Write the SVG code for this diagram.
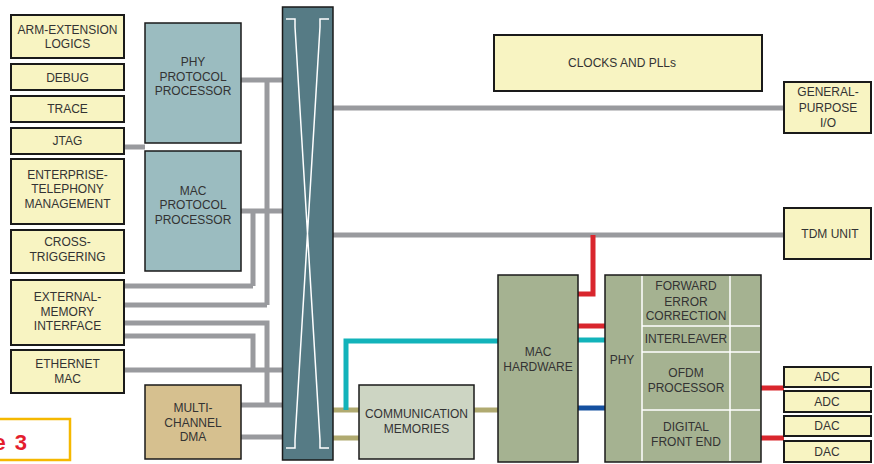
<svg xmlns="http://www.w3.org/2000/svg" width="874" height="464" viewBox="0 0 874 464">
<style>
text{font-family:"Liberation Sans",Arial,sans-serif;font-size:12px;fill:#333;text-anchor:middle}
.y{fill:#f8f4c2;stroke:#1a1a1a;stroke-width:2}
.t{fill:#9bbcc0;stroke:#1a1a1a;stroke-width:1.5}
.g{fill:#a5b291;stroke:#1a1a1a;stroke-width:1.5}
.w{fill:none;stroke:#fff;stroke-width:1.5}
.c path{fill:none;stroke-width:5;stroke-linejoin:miter}
.gr{stroke:#999a9e}
.ol{stroke:#b0aa70}
.cy{stroke:#12b3ba}
.rd{stroke:#d9262d}
.bl{stroke:#1450a0}
</style>
<g class="c" id="connectors">
<path class="gr" d="M124 147H145M241 80H283M241 211H283M267 80V305M253 211V286M124 286H253M124 305H267M124 323H267V405M124 336H253V370M124 370H283M241 405H283M241 437H283M333 108H784M333 235H784"/>
<path class="ol" d="M333 410H359M333 438H359M474 410H498"/>
<path class="cy" d="M346 410V341H498M578 340H605"/>
<path class="rd" d="M578 294H593V235M578 326H605M761 388H784M761 438H784"/>
<path class="bl" d="M578 408H605"/>
</g>
<g id="arm"><rect class="y" x="11" y="15" width="113" height="43"/><text x="67.5" y="34">ARM-EXTENSION</text><text x="67.5" y="48">LOGICS</text></g>
<g id="debug"><rect class="y" x="11" y="64" width="113" height="26"/><text x="67.5" y="82">DEBUG</text></g>
<g id="trace"><rect class="y" x="11" y="96" width="113" height="26"/><text x="67.5" y="113">TRACE</text></g>
<g id="jtag"><rect class="y" x="11" y="128" width="113" height="26"/><text x="67.5" y="145">JTAG</text></g>
<g id="etm"><rect class="y" x="11" y="159" width="113" height="65"/><text x="67.5" y="179">ENTERPRISE-</text><text x="67.5" y="193">TELEPHONY</text><text x="67.5" y="208">MANAGEMENT</text></g>
<g id="cross"><rect class="y" x="11" y="230" width="113" height="43"/><text x="67.5" y="246">CROSS-</text><text x="67.5" y="261">TRIGGERING</text></g>
<g id="extmem"><rect class="y" x="11" y="280" width="113" height="65"/><text x="67.5" y="301">EXTERNAL-</text><text x="67.5" y="316">MEMORY</text><text x="67.5" y="330">INTERFACE</text></g>
<g id="eth"><rect class="y" x="11" y="350" width="113" height="43"/><text x="67.5" y="368">ETHERNET</text><text x="67.5" y="383">MAC</text></g>
<g id="phypp"><rect class="t" x="145" y="23" width="96" height="120"/><text x="193" y="66">PHY</text><text x="193" y="81">PROTOCOL</text><text x="193" y="95">PROCESSOR</text></g>
<g id="macpp"><rect class="t" x="145" y="151" width="96" height="120"/><text x="193" y="195">MAC</text><text x="193" y="209">PROTOCOL</text><text x="193" y="224">PROCESSOR</text></g>
<g id="dma"><rect x="145" y="385" width="96" height="74" fill="#d6c08f" stroke="#1a1a1a" stroke-width="1.5"/><text x="193" y="412">MULTI-</text><text x="193" y="427">CHANNEL</text><text x="193" y="441">DMA</text></g>
<g id="crossbar"><rect x="282.5" y="7" width="50.5" height="453" fill="#567b85" stroke="#1a1a1a" stroke-width="1.5"/><path class="w" d="M286 19H295V27L320 440V448H329M329 19H320V27L295 440V448H286"/></g>
<g id="commmem"><rect x="359" y="385" width="115" height="74" fill="#cdd5c3" stroke="#1a1a1a" stroke-width="1.5"/><text x="416.5" y="418">COMMUNICATION</text><text x="416.5" y="433">MEMORIES</text></g>
<g id="machw"><rect class="g" x="498" y="275" width="80" height="187"/><text x="538" y="356">MAC</text><text x="538" y="371">HARDWARE</text></g>
<g id="phy"><rect class="g" x="605" y="275" width="156" height="187"/><path class="w" d="M642 276V461M730 276V461M642 326H760M642 352H760M642 410H760"/><text x="622" y="364">PHY</text><text x="686" y="290">FORWARD</text><text x="686" y="306">ERROR</text><text x="686" y="320">CORRECTION</text><text x="686" y="343">INTERLEAVER</text><text x="686" y="377">OFDM</text><text x="686" y="392">PROCESSOR</text><text x="686" y="431">DIGITAL</text><text x="686" y="446">FRONT END</text></g>
<g id="clocks"><rect class="y" x="494" y="35" width="268" height="56"/><text x="622" y="67">CLOCKS AND PLLs</text></g>
<g id="gpio"><rect class="y" x="784" y="82" width="87" height="51"/><text x="828" y="96">GENERAL-</text><text x="828" y="112">PURPOSE</text><text x="828" y="127">I/O</text></g>
<g id="tdm"><rect class="y" x="784" y="208" width="87" height="51"/><text x="830" y="238">TDM UNIT</text></g>
<g id="adc1"><rect class="y" x="784" y="367" width="87" height="20"/><text x="827" y="381">ADC</text></g>
<g id="adc2"><rect class="y" x="784" y="391" width="87" height="21"/><text x="827" y="406">ADC</text></g>
<g id="dac1"><rect class="y" x="784" y="416" width="87" height="20"/><text x="827" y="430">DAC</text></g>
<g id="dac2"><rect class="y" x="784" y="441" width="87" height="21"/><text x="827" y="456">DAC</text></g>
<g id="figlabel"><rect x="-5" y="419" width="75" height="41" fill="#fff" stroke="#f5b800" stroke-width="2.5"/><text x="27" y="450" style="font-size:22px;font-weight:bold;fill:#e41d2d;text-anchor:end;word-spacing:3px">e 3</text></g>
</svg>
